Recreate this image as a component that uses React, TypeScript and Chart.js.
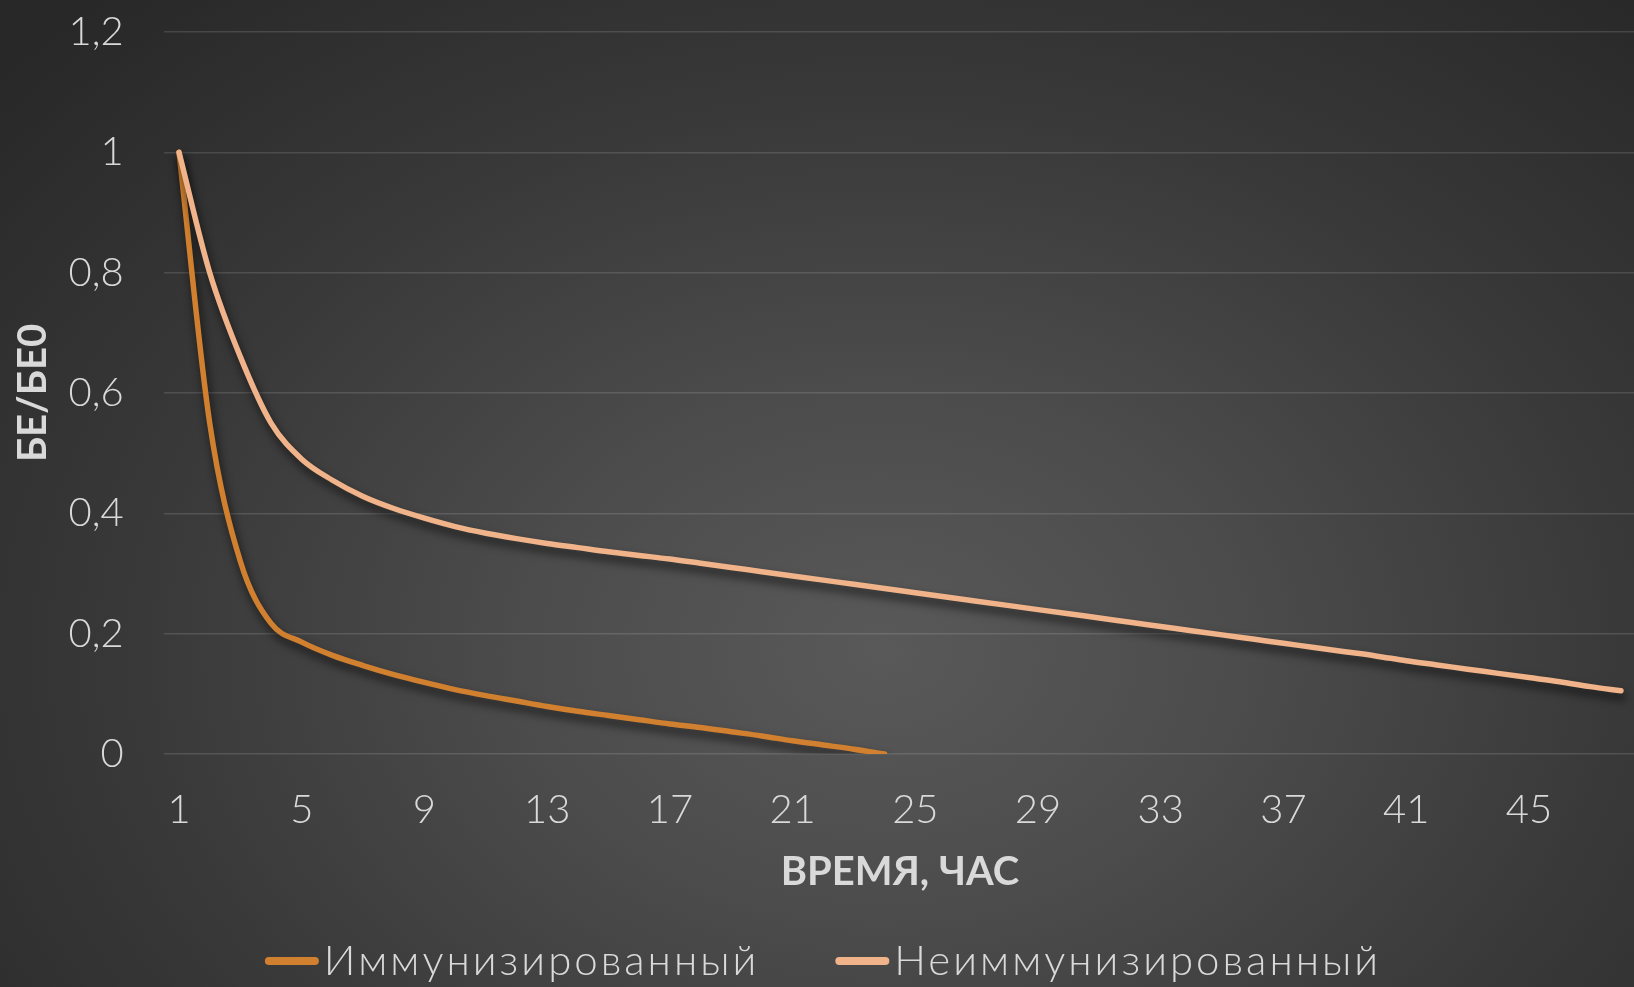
import React, { useEffect, useRef } from 'react';
import { Chart, registerables } from 'chart.js';

Chart.register(...registerables);

const hours = ['1', '2', '3', '4', '5', '6', '7', '8', '9', '10', '11', '12', '13', '14', '15', '16', '17', '18', '19', '20', '21', '22', '23', '24', '25', '26', '27', '28', '29', '30', '31', '32', '33', '34', '35', '36', '37', '38', '39', '40', '41', '42', '43', '44', '45', '46', '47', '48'];

const immunizedLabel = 'Иммунизированный';
const immunized = [1.0, 0.55, 0.32, 0.217, 0.186, 0.164, 0.147, 0.132, 0.119, 0.107, 0.097, 0.088, 0.079, 0.071, 0.064, 0.057, 0.05, 0.044, 0.037, 0.03, 0.022, 0.015, 0.008, 0];

const nonImmunizedLabel = 'Неиммунизированный';
const nonImmunized = [1.0, 0.8, 0.66, 0.55, 0.49, 0.455, 0.428, 0.408, 0.392, 0.378, 0.367, 0.358, 0.35, 0.343, 0.336, 0.33, 0.324, 0.317, 0.31, 0.303, 0.296, 0.289, 0.282, 0.275, 0.268, 0.261, 0.254, 0.247, 0.24, 0.233, 0.226, 0.219, 0.212, 0.205, 0.198, 0.191, 0.184, 0.177, 0.17, 0.163, 0.155, 0.148, 0.141, 0.134, 0.127, 0.12, 0.112, 0.105];

const yTitle = 'БЕ/БЕ0';
const xTitle = 'ВРЕМЯ, ЧАС';

const TEXT = '#d9d9d9';
const FONT = 'Lato';

const shadowPlugin = {
  id: 'lineShadow',
  beforeDatasetDraw(chart: any) {
    const ctx = chart.ctx;
    ctx.save();
    ctx.shadowColor = 'rgba(0,0,0,0.7)';
    ctx.shadowBlur = 10;
    ctx.shadowOffsetX = 2;
    ctx.shadowOffsetY = 6;
  },
  afterDatasetDraw(chart: any) {
    chart.ctx.restore();
  },
};

const legendPlugin = {
  id: 'customLegend',
  afterDraw(chart: any) {
    const ctx = chart.ctx;
    ctx.save();
    ctx.font = `300 42px ${FONT}`;
    (ctx as any).letterSpacing = '3px';
    const markerW = 54;
    const gap = 5;
    const spacing = 76;
    const items = chart.data.datasets.map((ds: any) => ({
      text: ds.label,
      color: ds.borderColor,
      w: ctx.measureText(ds.label).width,
    }));
    const total = items.reduce((s: number, it: any) => s + markerW + gap + it.w, 0) + spacing * (items.length - 1);
    let x = 823 - total / 2;
    const y = 961;
    items.forEach((it: any) => {
      ctx.beginPath();
      ctx.strokeStyle = it.color;
      ctx.lineWidth = 8;
      ctx.lineCap = 'round';
      ctx.moveTo(x + 4, y);
      ctx.lineTo(x + markerW - 4, y);
      ctx.stroke();
      ctx.fillStyle = TEXT;
      ctx.textBaseline = 'middle';
      ctx.textAlign = 'left';
      ctx.fillText(it.text, x + markerW + gap, y);
      x += markerW + gap + it.w + spacing;
    });
    ctx.restore();
  },
};

export default function App() {
  const ref = useRef<HTMLCanvasElement | null>(null);

  useEffect(() => {
    if (!ref.current) return;
    const chart = new Chart(ref.current, {
      type: 'line',
      data: {
        labels: hours,
        datasets: [
          {
            label: immunizedLabel,
            data: immunized,
            borderColor: '#d0802f',
            backgroundColor: '#d0802f',
            borderWidth: 5.5,
            pointRadius: 0,
            cubicInterpolationMode: 'monotone',
            borderCapStyle: 'round',
            borderJoinStyle: 'round',
            order: 1,
          },
          {
            label: nonImmunizedLabel,
            data: nonImmunized,
            borderColor: '#f1b48a',
            backgroundColor: '#f1b48a',
            borderWidth: 5.5,
            pointRadius: 0,
            cubicInterpolationMode: 'monotone',
            borderCapStyle: 'round',
            borderJoinStyle: 'round',
            order: 0,
          },
        ],
      },
      options: {
        responsive: false,
        animation: false,
        devicePixelRatio: 1,
        layout: { padding: { top: 32, left: 0, right: 23.7, bottom: 91 } },
        plugins: {
          legend: { display: false },
          tooltip: { enabled: false },
        },
        scales: {
          x: {
            type: 'category',
            offset: true,
            grid: { display: false, drawTicks: false },
            border: { display: false },
            ticks: {
              autoSkip: false,
              maxRotation: 0,
              padding: 32,
              color: TEXT,
              font: { family: FONT, size: 40, weight: '300' },
              callback: (_v: any, i: number) => (i % 4 === 0 ? hours[i] : ''),
            },
            title: {
              display: true,
              text: xTitle,
              color: TEXT,
              font: { family: FONT, size: 40, weight: 'bold' },
              padding: { top: 0, bottom: 0 },
            },
            afterFit: (s: any) => {
              s.height = 142;
            },
          },
          y: {
            min: 0,
            max: 1.2,
            grid: { color: 'rgba(255,255,255,0.13)', lineWidth: 1.5, drawTicks: false },
            border: { display: false },
            ticks: {
              stepSize: 0.2,
              padding: 40,
              color: TEXT,
              font: { family: FONT, size: 40, weight: '300' },
              callback: (v: any) => String(Number(Number(v).toFixed(1))).replace('.', ','),
            },
            title: {
              display: true,
              text: yTitle,
              color: TEXT,
              font: { family: FONT, size: 40, weight: 'bold' },
              padding: { top: 9, bottom: 0 },
            },
            afterFit: (s: any) => {
              s.width = 163.7;
              s.paddingTop = 0;
              s.paddingBottom = 0;
            },
          },
        },
      },
      plugins: [shadowPlugin, legendPlugin],
    } as any);
    return () => chart.destroy();
  }, []);

  return (
    <div
      style={{
        position: 'fixed',
        left: 0,
        top: 0,
        width: '100vw',
        height: '100vh',
        overflow: 'hidden',
        background: 'radial-gradient(ellipse 72% 88% at 54% 66%, #595959 0%, #4c4c4c 30%, #383838 65%, #282828 100%)',
      }}
    >
      <canvas ref={ref} width={1660} height={987} style={{ display: 'block', width: 1660, height: 987 }} />
    </div>
  );
}
